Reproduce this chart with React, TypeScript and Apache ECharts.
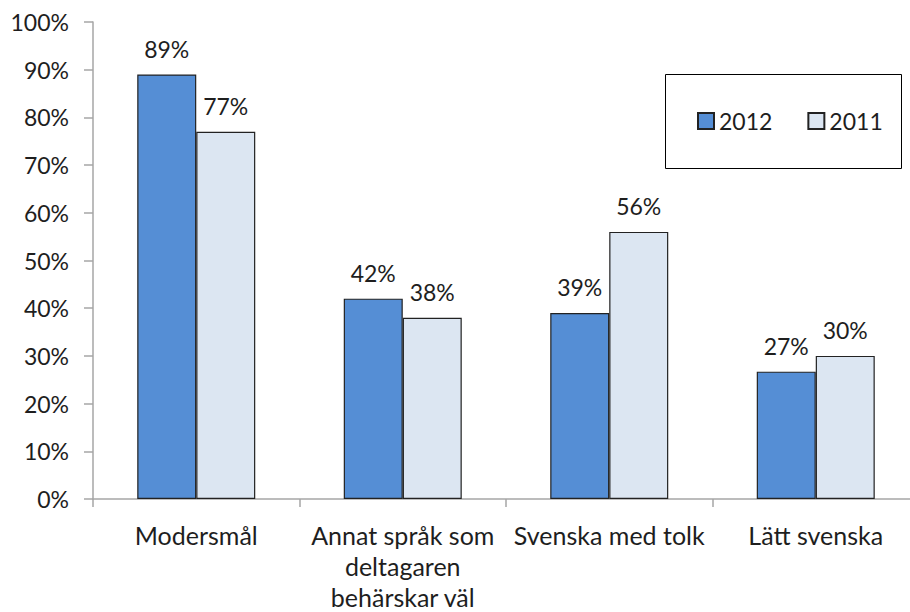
import React, { useEffect, useRef } from "react";
import * as echarts from "echarts";

const categories = ["Modersmål", "Annat språk som\ndeltagaren\nbehärskar väl", "Svenska med tolk", "Lätt svenska"];
const series2012 = [89, 42, 39, 26.7];
const series2011 = [77, 38, 56, 30];
const seriesNames = ["2012", "2011"];

const FONT = "Lato";
const TEXT = "#1e1e1e";

export default function App() {
  const ref = useRef<HTMLDivElement>(null);
  useEffect(() => {
    document.body.style.margin = "0";
    document.body.style.overflow = "hidden";
    document.documentElement.style.overflow = "hidden";
    const chart = echarts.init(ref.current!, null, { renderer: "svg" });
    const label = {
      show: true,
      position: "top" as const,
      distance: 14,
      color: TEXT,
      fontFamily: FONT,
      fontSize: 23,
      formatter: (p: any) => Math.round(p.value) + "%",
    };
    chart.setOption({
      animation: false,
      backgroundColor: "#ffffff",
      textStyle: { fontFamily: FONT },
      grid: { left: 93, top: 22, width: 826, height: 480, containLabel: false },
      legend: {
        left: 697,
        top: 108,
        icon: "rect",
        itemWidth: 16,
        itemHeight: 16,
        itemGap: 35,
        padding: 0,
        textStyle: { color: TEXT, fontFamily: FONT, fontSize: 23, lineHeight: 26 },
        data: seriesNames,
      },
      graphic: [
        {
          type: "rect",
          shape: { x: 665.5, y: 74.5, width: 236, height: 94 },
          style: { fill: "none", stroke: "#000000", lineWidth: 1 },
          silent: true,
        },
      ],
      xAxis: {
        type: "category",
        data: categories,
        axisLine: { lineStyle: { color: "#a6a6a6", width: 1.5 } },
        axisTick: { show: true, length: 8, lineStyle: { color: "#a6a6a6", width: 1.5 } },
        axisLabel: {
          color: TEXT,
          fontFamily: FONT,
          fontSize: 25,
          lineHeight: 31,
          margin: 20,
          interval: 0,
        },
      },
      yAxis: {
        type: "value",
        min: 0,
        max: 100,
        interval: 10,
        splitLine: { show: false },
        axisLine: { show: true, lineStyle: { color: "#a6a6a6", width: 1.5 } },
        axisTick: { show: true, length: 9, lineStyle: { color: "#a6a6a6", width: 1.5 } },
        axisLabel: {
          color: TEXT,
          fontFamily: FONT,
          fontSize: 23,
          margin: 24,
          formatter: "{value}%",
        },
      },
      series: [
        {
          name: seriesNames[0],
          type: "bar",
          data: series2012,
          barWidth: 59,
          barGap: "0%",
          itemStyle: { color: "#558ed5", borderColor: "#222222", borderWidth: 1.2 },
          label,
        },
        {
          name: seriesNames[1],
          type: "bar",
          data: series2011,
          barWidth: 59,
          barGap: "0%",
          itemStyle: { color: "#dce6f2", borderColor: "#222222", borderWidth: 1.2 },
          label,
        },
      ],
    });
    return () => chart.dispose();
  }, []);
  return <div ref={ref} style={{ width: 930, height: 612 }} />;
}
